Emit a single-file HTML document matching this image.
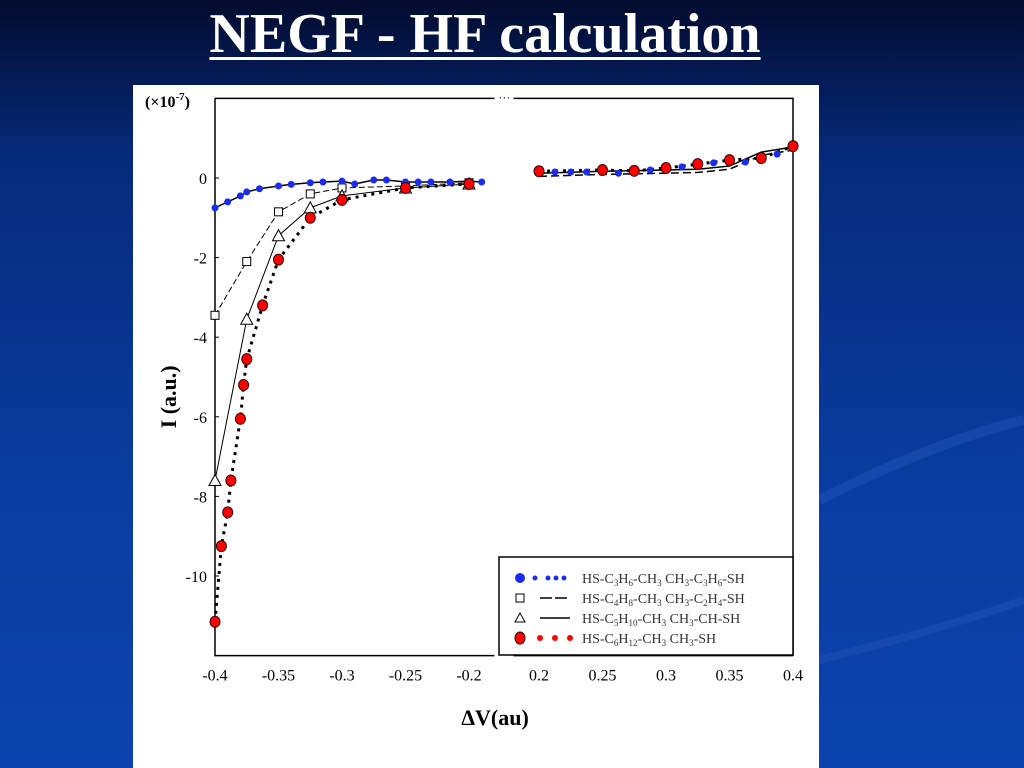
<!DOCTYPE html>
<html><head><meta charset="utf-8">
<style>
html,body{margin:0;padding:0;width:1024px;height:768px;overflow:hidden;}
body{background:linear-gradient(180deg,#020b2e 0%,#062a7a 20%,#0a3c9e 60%,#0b44ae 100%);font-family:"Liberation Serif",serif;position:relative;}
#title{position:absolute;left:0;width:970px;top:2px;text-align:center;color:#fff;font-weight:bold;font-size:56px;text-decoration:underline;text-decoration-thickness:3px;text-underline-offset:5px;}
#chart{position:absolute;left:133px;top:85px;}
</style></head><body>
<div id="title">NEGF - HF calculation</div>
<svg id="chart" width="686" height="683" font-family="Liberation Serif, serif">
<rect x="0" y="0" width="686" height="683" fill="#fff"/>
<g id="plot"></g>
</svg>
<svg style="position:absolute;left:819px;top:300px" width="205" height="400">
<path d="M0 200 Q120 140 205 120" stroke="#2a5fc4" stroke-width="10" fill="none" opacity="0.35"/>
<path d="M0 360 Q120 330 205 300" stroke="#2a5fc4" stroke-width="8" fill="none" opacity="0.3"/>
</svg>
<script>
const leftX1=[-0.4,-0.39,-0.38,-0.375,-0.365,-0.35,-0.34,-0.325,-0.315,-0.3,-0.29,-0.275,-0.265,-0.25,-0.24,-0.23,-0.215,-0.2,-0.19];
const leftY1=[-0.75,-0.6,-0.45,-0.35,-0.27,-0.2,-0.16,-0.12,-0.1,-0.08,-0.15,-0.05,-0.05,-0.1,-0.1,-0.1,-0.1,-0.08,-0.1];
const leftX2=[-0.4,-0.375,-0.35,-0.325,-0.3,-0.25,-0.2];
const leftY2=[-3.45,-2.1,-0.85,-0.4,-0.25,-0.2,-0.12];
const leftX3=[-0.4,-0.375,-0.35,-0.325,-0.3,-0.25,-0.2];
const leftY3=[-7.6,-3.55,-1.45,-0.75,-0.45,-0.25,-0.15];
const leftX4=[-0.4,-0.395,-0.39,-0.3875,-0.38,-0.3775,-0.375,-0.3625,-0.35,-0.325,-0.3,-0.25,-0.2];
const leftY4=[-11.15,-9.25,-8.4,-7.6,-6.05,-5.2,-4.55,-3.2,-2.05,-1.0,-0.55,-0.25,-0.15];
const rightX1=[0.2,0.2125,0.225,0.2375,0.25,0.2625,0.275,0.2875,0.3,0.3125,0.325,0.3375,0.35,0.3625,0.375,0.3875,0.4];
const rightY1=[0.15,0.15,0.15,0.15,0.17,0.12,0.2,0.2,0.22,0.28,0.33,0.38,0.45,0.4,0.5,0.6,0.75];
const rightX2=[0.2,0.25,0.3,0.325,0.35,0.375,0.4];
const rightY2=[0.12,0.17,0.2,0.22,0.3,0.65,0.78];
const rightX4=[0.2,0.25,0.275,0.3,0.325,0.35,0.375,0.4];
const rightY4=[0.17,0.2,0.18,0.25,0.35,0.45,0.5,0.8];
const yTicks=[0,-2,-4,-6,-8,-10];
const xTicksL=[-0.4,-0.35,-0.3,-0.25,-0.2];
const xTicksR=[0.2,0.25,0.3,0.35,0.4];
const OX=133,OY=85;
function yS(v){return 178-OY-v*39.8;}
function xL(v){return 215-OX+(v+0.4)/0.05*63.5;}
function xR(v){return 793-OX-(0.4-v)/0.05*63.5;}
const NS="http://www.w3.org/2000/svg";
const g=document.getElementById('plot');
function mk(t,a){const e=document.createElementNS(NS,t);for(const k in a)e.setAttribute(k,a[k]);g.appendChild(e);return e;}
let e;
e=mk('path',{d:`M${xL(-0.4)} ${yS(2)} H${xL(-0.18)} M${xR(0.18)} ${yS(2)} H${xR(0.4)} V${yS(-12)} M${xL(-0.4)} ${yS(2)} V${yS(-12)} H${xL(-0.18)} M${xR(0.18)} ${yS(-12)} H${xR(0.4)}`,stroke:'#000','stroke-width':1.5,fill:'none'});

e=mk('text',{x:xL(-0.18)+4,y:yS(2)+3,'font-size':12});e.textContent='···';

yTicks.forEach(v=>{
 e=mk('text',{x:xL(-0.4)-8,y:yS(v)+6,'font-size':16,'text-anchor':'end'});e.textContent=v;
 
 mk('line',{x1:xL(-0.4),x2:xL(-0.4)+4,y1:yS(v),y2:yS(v),stroke:'#000'});
});
e=mk('text',{x:12,y:22,'font-size':16,'font-weight':'bold'});e.innerHTML='(×10<tspan dy="-7" font-size="11">-7</tspan><tspan dy="7">)</tspan>';

xTicksL.forEach(v=>{e=mk('text',{x:xL(v),y:yS(-12)+25,'font-size':16,'text-anchor':'middle'});e.textContent=v;
 });
xTicksR.forEach(v=>{e=mk('text',{x:xR(v),y:yS(-12)+25,'font-size':16,'text-anchor':'middle'});e.textContent=v;
 });
e=mk('text',{x:362,y:640,'font-size':22,'font-weight':'bold','text-anchor':'middle'});e.textContent='ΔV(au)';

e=mk('text',{x:0,y:0,'font-size':22,'font-weight':'bold','text-anchor':'middle',transform:`translate(43,${yS(-5.5)}) rotate(-90)`});e.textContent='I (a.u.)';

function pts(xs,ys,f){return xs.map((x,i)=>f(x)+','+yS(ys[i])).join(' ');}
function line(xs,ys,f,dash,w,name){e=mk('polyline',{points:pts(xs,ys,f),fill:'none',stroke:'#000','stroke-width':w,'stroke-dasharray':dash});
 }
line(leftX4,leftY4,xL,'3,5',3,'series4-line');line(rightX4,rightY4,xR,'3,5',3,'series4-line');
line(leftX3,leftY3,xL,'',1,'series3-line');line(rightX2,rightY2,xR,'',1.5,'series3-line');
line(leftX2,leftY2,xL,'6,3',1,'series2-line');line(rightX2,rightY2.map(v=>v-0.08),xR,'8,4',1.5,'series2-line');
line(leftX1,leftY1,xL,'',1.5,'series1-line');
function marks(xs,ys,f,type,name){xs.forEach((x,i)=>{const cx=f(x),cy=yS(ys[i]);
 if(type==='sq')e=mk('rect',{x:cx-4,y:cy-4,width:8,height:8,fill:'#fff',stroke:'#000'});
 else if(type==='tri')e=mk('polygon',{points:`${cx},${cy-6} ${cx-6},${cy+5} ${cx+6},${cy+5}`,fill:'#fff',stroke:'#000'});
 else if(type==='red')e=mk('ellipse',{cx:cx,cy:cy,rx:5,ry:5.5,fill:'#f00',stroke:'#300','stroke-width':1});
 else e=mk('circle',{cx:cx,cy:cy,r:3.5,fill:'#1a2cf0'});
 });}
marks(leftX2,leftY2,xL,'sq','series2-point');
marks(leftX3,leftY3,xL,'tri','series3-point');
marks(leftX1,leftY1,xL,'blue','series1-point');marks(rightX1,rightY1,xR,'blue','series1-point');
marks(leftX4,leftY4,xL,'red','series4-point');marks(rightX4,rightY4,xR,'red','series4-point');
e=mk('rect',{x:499-OX,y:557-OY,width:294,height:98,fill:'#fff',stroke:'#000','stroke-width':1.5});

const leg=['HS-C<tspan font-size="9" dy="3">3</tspan><tspan dy="-3">H</tspan><tspan font-size="9" dy="3">6</tspan><tspan dy="-3">-CH</tspan><tspan font-size="9" dy="3">3</tspan><tspan dy="-3">  CH</tspan><tspan font-size="9" dy="3">3</tspan><tspan dy="-3">-C</tspan><tspan font-size="9" dy="3">3</tspan><tspan dy="-3">H</tspan><tspan font-size="9" dy="3">6</tspan><tspan dy="-3">-SH</tspan>',
'HS-C<tspan font-size="9" dy="3">4</tspan><tspan dy="-3">H</tspan><tspan font-size="9" dy="3">8</tspan><tspan dy="-3">-CH</tspan><tspan font-size="9" dy="3">3</tspan><tspan dy="-3">  CH</tspan><tspan font-size="9" dy="3">3</tspan><tspan dy="-3">-C</tspan><tspan font-size="9" dy="3">2</tspan><tspan dy="-3">H</tspan><tspan font-size="9" dy="3">4</tspan><tspan dy="-3">-SH</tspan>',
'HS-C<tspan font-size="9" dy="3">5</tspan><tspan dy="-3">H</tspan><tspan font-size="9" dy="3">10</tspan><tspan dy="-3">-CH</tspan><tspan font-size="9" dy="3">3</tspan><tspan dy="-3">  CH</tspan><tspan font-size="9" dy="3">3</tspan><tspan dy="-3">-CH-SH</tspan>',
'HS-C<tspan font-size="9" dy="3">6</tspan><tspan dy="-3">H</tspan><tspan font-size="9" dy="3">12</tspan><tspan dy="-3">-CH</tspan><tspan font-size="9" dy="3">3</tspan><tspan dy="-3">  CH</tspan><tspan font-size="9" dy="3">3</tspan><tspan dy="-3">-SH</tspan>'];
leg.forEach((t,i)=>{const y=578-OY+i*20;
 e=mk('text',{x:582-OX,y:y+5,'font-size':14,fill:'#333'});e.innerHTML=t;
 
 const sx=520-OX;
 if(i===0){mk('circle',{cx:sx,cy:y,r:5,fill:'#1a2cf0'});[535,548,556,564].forEach(x=>mk('circle',{cx:x-OX,cy:y,r:2.5,fill:'#1a2cf0'}));}
 if(i===1){mk('rect',{x:sx-4,y:y-4,width:8,height:8,fill:'#fff',stroke:'#000'});mk('line',{x1:540-OX,x2:570-OX,y1:y,y2:y,stroke:'#000','stroke-width':1.5,'stroke-dasharray':'12,3'});}
 if(i===2){mk('polygon',{points:`${sx},${y-5} ${sx-5},${y+4} ${sx+5},${y+4}`,fill:'#fff',stroke:'#000'});mk('line',{x1:540-OX,x2:570-OX,y1:y,y2:y,stroke:'#000','stroke-width':1.5});}
 if(i===3){mk('ellipse',{cx:sx,cy:y,rx:5,ry:6,fill:'#f00',stroke:'#300'});[540,555,570].forEach(x=>mk('circle',{cx:x-OX,cy:y,r:3,fill:'#f00'}));}
});
</script>
</body></html>
